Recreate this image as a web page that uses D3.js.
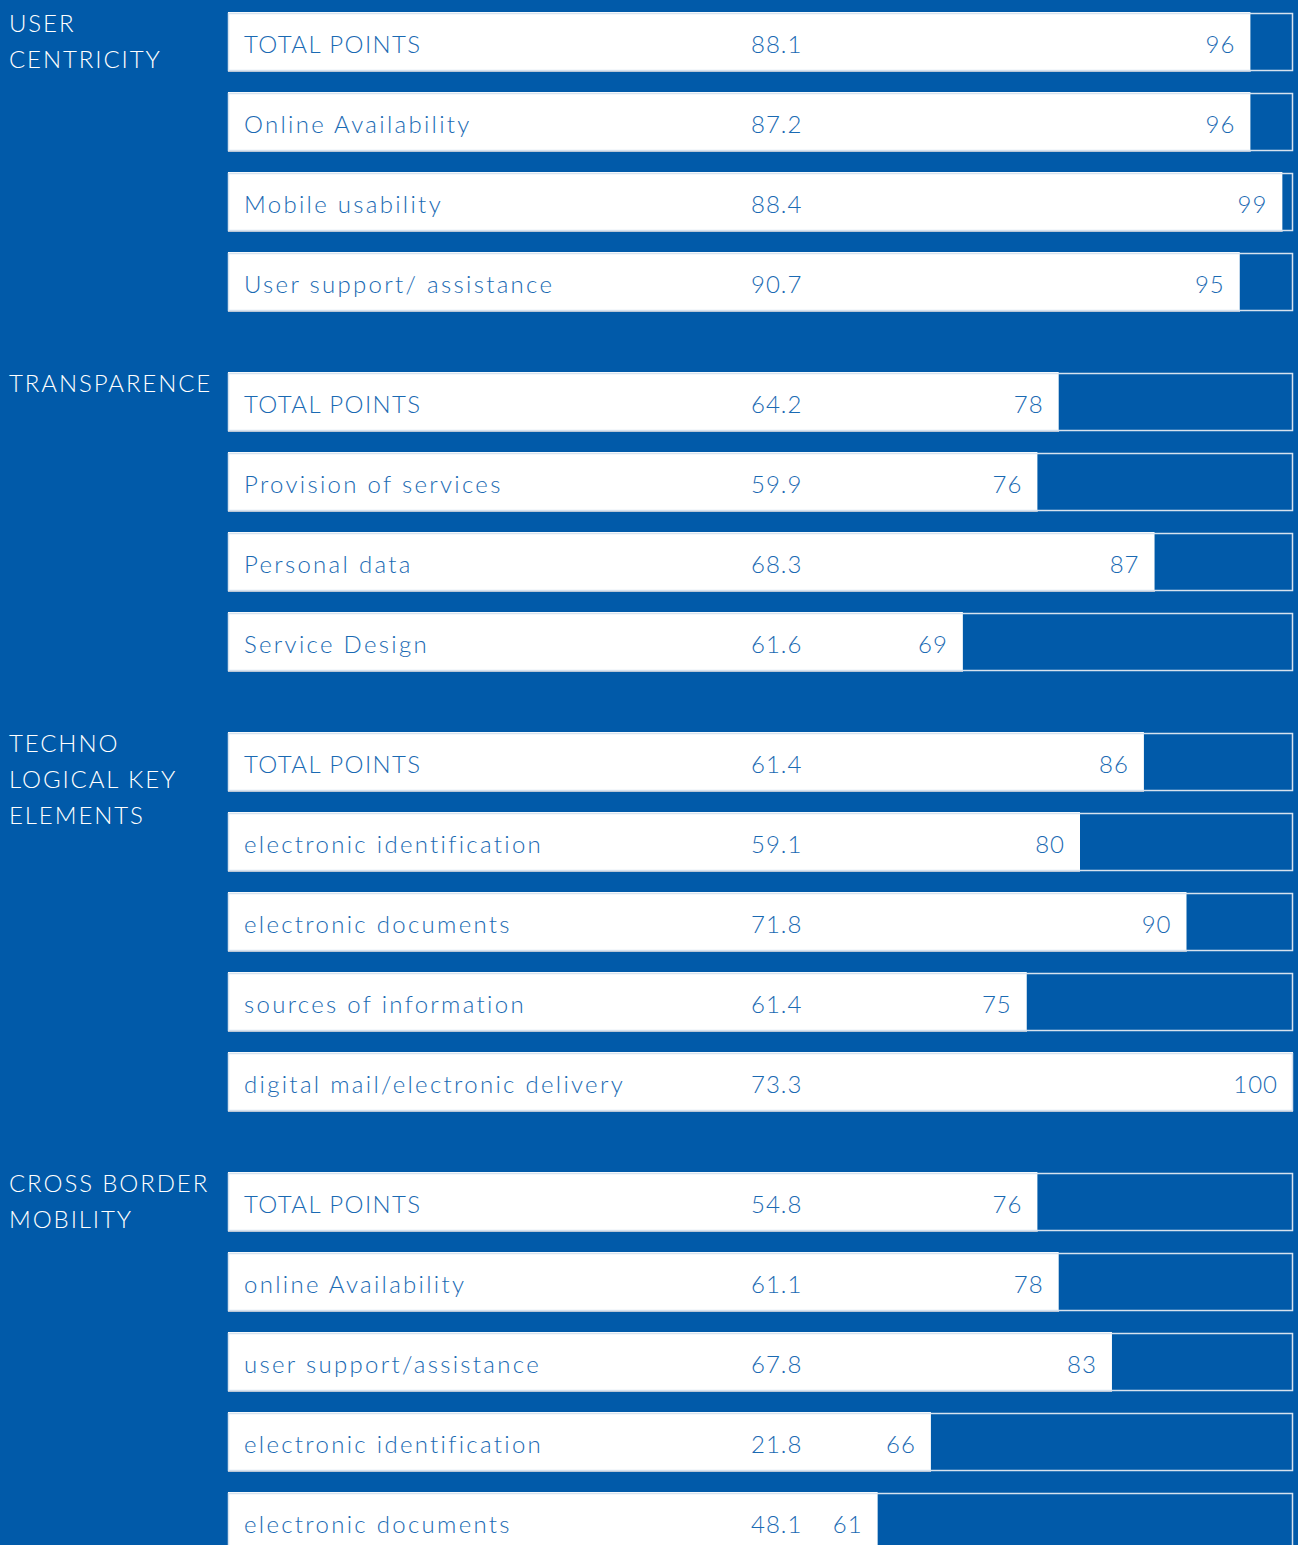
<!DOCTYPE html>
<html><head><meta charset="utf-8">
<script src="https://cdn.jsdelivr.net/npm/d3@7"></script>
<style>
html,body{margin:0;padding:0;background:#015aa9;}
svg{display:block;}
text{font-family:Lato, "Open Sans", sans-serif;}
</style></head><body>
<svg id="c" width="1298" height="1545"></svg>
<script>
const groups = ["USER\nCENTRICITY", "TRANSPARENCE", "TECHNO\nLOGICAL KEY\nELEMENTS", "CROSS BORDER\nMOBILITY"];
const labels = [
  ["TOTAL POINTS", "Online Availability", "Mobile usability", "User support/ assistance"],
  ["TOTAL POINTS", "Provision of services", "Personal data", "Service Design"],
  ["TOTAL POINTS", "electronic identification", "electronic documents", "sources of information", "digital mail/electronic delivery"],
  ["TOTAL POINTS", "online Availability", "user support/assistance", "electronic identification", "electronic documents"]
];
const avgValues = [
  [88.1, 87.2, 88.4, 90.7],
  [64.2, 59.9, 68.3, 61.6],
  [61.4, 59.1, 71.8, 61.4, 73.3],
  [54.8, 61.1, 67.8, 21.8, 48.1]
];
const scores = [
  [96, 96, 99, 95],
  [78, 76, 87, 69],
  [86, 80, 90, 75, 100],
  [76, 78, 83, 66, 61]
];

const textBlue = "#1a6ab3";
const svg = d3.select("#c");
const x = d3.scaleLinear().domain([0, 100]).range([228, 1293]);
const pitch = 80, groupGap = 40, top0 = 12, barH = 60;

let rows = [];
let idx = 0;
groups.forEach((g, gi) => {
  labels[gi].forEach((l, ri) => {
    rows.push({g: gi, r: ri, label: l, avg: avgValues[gi][ri], score: scores[gi][ri], y: top0 + idx * pitch + gi * groupGap});
    idx++;
  });
});

// group labels
groups.forEach((g, gi) => {
  const first = rows.find(d => d.g === gi);
  const t = svg.append("text").attr("fill", "#fff").attr("font-size", 24).attr("font-weight", 300)
    .attr("letter-spacing", 1.9).style("white-space", "pre");
  g.split("\n").forEach((line, li) => {
    t.append("tspan").attr("x", 9).attr("y", first.y + 20 + li * 36).text(line);
  });
});

const row = svg.selectAll("g.row").data(rows).join("g").attr("class", "row");
row.append("rect").attr("x", d => x(0)).attr("y", d => d.y).attr("width", d => x(d.score) - x(0)).attr("height", barH)
  .attr("fill", "#fff");
row.append("rect").attr("x", d => x(0) + 0.5).attr("y", d => d.y + 1.5).attr("width", d => x(100) - x(0) - 1).attr("height", barH - 3)
  .attr("fill", "none").attr("stroke", "#d6e2ef").attr("stroke-width", 1.5);
row.append("line").attr("x1", x(0)).attr("x2", d => x(d.score)).attr("y1", d => d.y + barH - 0.5).attr("y2", d => d.y + barH - 0.5)
  .attr("stroke", "#b9c6d6").attr("stroke-width", 1);
row.append("text").attr("x", 244).attr("y", d => d.y + 41).attr("fill", textBlue).attr("font-size", 24).attr("font-weight", 300)
  .attr("letter-spacing", d => d.label === d.label.toUpperCase() ? 1.4 : 2.3).text(d => d.label);
row.append("text").attr("x", 751).attr("y", d => d.y + 41).attr("fill", textBlue).attr("font-size", 24).attr("font-weight", 300)
  .attr("letter-spacing", 1).text(d => d.avg.toFixed(1));
row.append("text").attr("x", d => x(d.score) - 15).attr("y", d => d.y + 41).attr("text-anchor", "end").attr("fill", textBlue)
  .attr("font-size", 24).attr("font-weight", 300).attr("letter-spacing", 1).text(d => d.score);
</script>
</body></html>
